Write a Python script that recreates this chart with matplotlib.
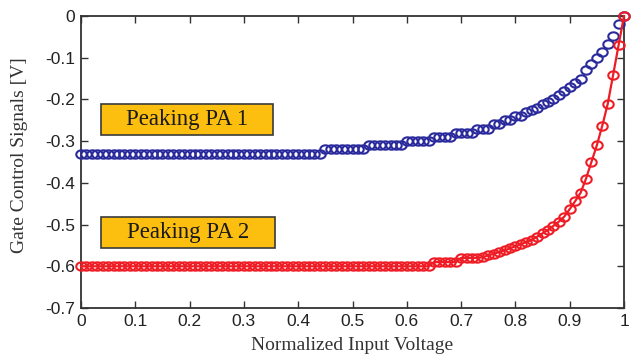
import numpy as np
import matplotlib
matplotlib.use("Agg")
import matplotlib.pyplot as plt
from matplotlib.path import Path
from matplotlib.patches import Rectangle

plt.rcParams['axes.unicode_minus'] = False

# ---- data ----
x_vals = np.round(np.linspace(0, 1, 101), 2)

pa1_values = (
    [-0.33] * 45 +                     # 0.00 - 0.44
    [-0.32] * 8 +                      # 0.45 - 0.52
    [-0.31] * 7 +                      # 0.53 - 0.59
    [-0.30] * 5 +                      # 0.60 - 0.64
    [-0.29] * 4 +                      # 0.65 - 0.68
    [-0.28] * 4 +                      # 0.69 - 0.72
    [-0.27] * 3 +                      # 0.73 - 0.75
    [-0.26, -0.26, -0.25, -0.25, -0.24, -0.24, -0.23, -0.225, -0.22, -0.21,
     -0.205, -0.20, -0.19, -0.18, -0.17, -0.16, -0.15, -0.13, -0.115, -0.10,
     -0.087, -0.068, -0.048, -0.02, 0.0]   # 0.76 - 1.00
)

pa2_values = (
    [-0.60] * 65 +                     # 0.00 - 0.64
    [-0.59] * 5 +                      # 0.65 - 0.69
    [-0.58] * 4 +                      # 0.70 - 0.73
    [-0.578, -0.574, -0.570, -0.566, -0.562, -0.557, -0.552, -0.547, -0.542,
     -0.537, -0.529, -0.521, -0.513, -0.503, -0.493, -0.481, -0.463, -0.444,
     -0.424, -0.39, -0.35, -0.31, -0.263, -0.211, -0.141, -0.07, 0.0]  # 0.74 - 1.00
)

x_ticks = [0, 0.1, 0.2, 0.3, 0.4, 0.5, 0.6, 0.7, 0.8, 0.9, 1]
x_tick_labels = ['0', '0.1', '0.2', '0.3', '0.4', '0.5', '0.6', '0.7', '0.8', '0.9', '1']
y_ticks = [-0.7, -0.6, -0.5, -0.4, -0.3, -0.2, -0.1, 0]
y_tick_labels = ['-0.7', '-0.6', '-0.5', '-0.4', '-0.3', '-0.2', '-0.1', '0']

labels = ['Peaking PA 1', 'Peaking PA 2']

# ---- figure ----
W, H = 639, 358
fig = plt.figure(figsize=(W / 100, H / 100), dpi=100)
L, R, T, B = 81, 624, 16, 308
ax = fig.add_axes([L / W, 1 - B / H, (R - L) / W, (B - T) / H])

t = np.linspace(0, 2 * np.pi, 41)
ell = Path(np.column_stack([1.25 * np.cos(t), np.sin(t)]), closed=True)

blue = '#2a2a9c'
red = '#ee1c24'

ax.plot(x_vals, pa1_values, linestyle='none', marker=ell, ms=7.5,
        mfc='none', mec=blue, mew=1.5, zorder=3, clip_on=False)
ax.plot(x_vals, pa2_values, linestyle='-', color=red, lw=1.6, marker=ell,
        ms=7.5, mfc='none', mec=red, mew=1.5, zorder=4, clip_on=False)

ax.set_xlim(0, 1)
ax.set_ylim(-0.7, 0)
ax.set_xticks(x_ticks)
ax.set_xticklabels(x_tick_labels)
ax.set_yticks(y_ticks)
ax.set_yticklabels(y_tick_labels)

for lab in ax.get_xticklabels() + ax.get_yticklabels():
    lab.set_fontfamily('Liberation Sans')
    lab.set_fontsize(12.5)
    lab.set_color('#222222')

ax.tick_params(direction='in', length=5, width=1, top=True, right=True,
               pad=4, colors='#333333', labelcolor='#222222')
for s in ax.spines.values():
    s.set_linewidth(1.3)
    s.set_color('#333333')

ax.set_xlabel('Normalized Input Voltage', family='Liberation Serif',
              fontsize=14, color='#333333', labelpad=6)
ax.set_ylabel('Gate Control Signals [V]', family='Liberation Serif',
              fontsize=14, color='#333333', va='center')
ax.yaxis.set_label_coords((20 - L) / (R - L), 1 - (155 - T) / (B - T))

# annotation boxes (pixel-measured positions converted to axes fraction)
boxes = [(101, 273, 104, 135), (101, 275, 217, 248)]
for (bx0, bx1, by0, by1), lab in zip(boxes, labels):
    ax0 = (bx0 - L) / (R - L)
    ax1 = (bx1 - L) / (R - L)
    ay1 = 1 - (by0 - T) / (B - T)
    ay0 = 1 - (by1 - T) / (B - T)
    ax.add_patch(Rectangle((ax0, ay0), ax1 - ax0, ay1 - ay0,
                           transform=ax.transAxes, facecolor='#fdbf0f',
                           edgecolor='#3a3a3a', lw=1.2, zorder=5))
    ax.text((ax0 + ax1) / 2, (ay0 + ay1) / 2, lab, transform=ax.transAxes,
            ha='center', va='center', family='Liberation Serif',
            fontsize=16.5, color='#1a1a1a', zorder=6)

fig.savefig('out.png', dpi=100)
